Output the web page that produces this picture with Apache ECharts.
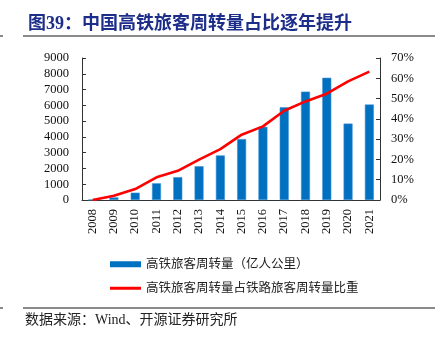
<!DOCTYPE html>
<html>
<head>
<meta charset="utf-8">
<script src="https://cdn.jsdelivr.net/npm/echarts@6/dist/echarts.min.js"></script>
<style>
  html, body { margin: 0; padding: 0; background: #fff; }
  #chart { width: 440px; height: 338px; }
</style>
</head>
<body>
<div id="chart"></div>
<script>
// 年份
const years = ['2008', '2009', '2010', '2011', '2012', '2013', '2014',
               '2015', '2016', '2017', '2018', '2019', '2020', '2021'];
// 高铁旅客周转量（亿人公里）
const hsrVolume = [15.6, 162.2, 463.2, 1058.4, 1446.1, 2141.1, 2825.0,
                   3863.4, 4641.0, 5875.6, 6871.9, 7746.7, 4844.1, 6050];
// 高铁旅客周转量占铁路旅客周转量比重（%）
const hsrShare = [0, 2.1, 5.4, 11.2, 14.4, 19.9, 25.1,
                  32.2, 36.3, 44.0, 48.6, 52.4, 58.5, 63.3];

const barName = '高铁旅客周转量（亿人公里）';
const lineName = '高铁旅客周转量占铁路旅客周转量比重';
const titleText = '图39：中国高铁旅客周转量占比逐年提升';
const sourceText = '数据来源：Wind、开源证券研究所';

const FONT = "'Liberation Serif', 'Noto Sans CJK SC', serif";
const axisColor = '#333';

const chart = echarts.init(document.getElementById('chart'), null, { renderer: 'canvas' });

chart.setOption({
  animation: false,
  textStyle: { fontFamily: FONT },
  title: {
    text: titleText,
    left: 23,
    top: 10,
    textStyle: { fontFamily: FONT, fontSize: 18, fontWeight: 'bold', color: '#1c2d8a' }
  },
  grid: { left: 82, right: 60, top: 58, bottom: 138, containLabel: false },
  legend: [
    {
      data: [{ name: barName, icon: 'rect', itemStyle: { color: '#0070c0', borderWidth: 0 } }],
      left: 105, top: 253,
      itemWidth: 31, itemHeight: 6, itemGap: 0, itemTextGap: 5,
      textStyle: { fontFamily: FONT, fontSize: 12.5, color: '#222' },
      selectedMode: false
    },
    {
      data: [{ name: lineName, icon: 'rect', itemStyle: { color: '#ff0000', borderWidth: 0 } }],
      left: 105, top: 277,
      itemWidth: 31, itemHeight: 3, itemGap: 0, itemTextGap: 5,
      textStyle: { fontFamily: FONT, fontSize: 12.5, color: '#222' },
      selectedMode: false
    }
  ],
  xAxis: {
    type: 'category',
    data: years,
    boundaryGap: true,
    axisLine: { lineStyle: { color: axisColor, width: 1 } },
    axisTick: { inside: true, length: 4, lineStyle: { color: axisColor } },
    axisLabel: { rotate: 90, margin: 9, fontSize: 12.5, color: '#111', fontFamily: FONT, interval: 0 }
  },
  yAxis: [
    {
      type: 'value',
      min: 0, max: 9000, interval: 1000,
      splitLine: { show: false },
      axisLine: { show: true, lineStyle: { color: axisColor, width: 1 } },
      axisTick: { show: true, inside: true, length: 4, lineStyle: { color: axisColor } },
      axisLabel: { margin: 13, fontSize: 12.5, color: '#111', fontFamily: FONT, formatter: v => String(v) }
    },
    {
      type: 'value',
      min: 0, max: 70, interval: 10,
      position: 'right',
      splitLine: { show: false },
      axisLine: { show: true, lineStyle: { color: axisColor, width: 1 } },
      axisTick: { show: true, inside: true, length: 4, lineStyle: { color: axisColor } },
      axisLabel: { margin: 11, fontSize: 12.5, color: '#111', fontFamily: FONT, formatter: '{value}%' }
    }
  ],
  series: [
    {
      name: barName,
      type: 'bar',
      data: hsrVolume,
      yAxisIndex: 0,
      barWidth: 9,
      itemStyle: { color: '#0070c0', borderColor: '#3d8fd3', borderWidth: 0.6 }
    },
    {
      name: lineName,
      type: 'line',
      data: hsrShare,
      yAxisIndex: 1,
      symbol: 'none',
      smooth: false,
      lineStyle: { color: '#ff0000', width: 2.6 },
      itemStyle: { color: '#ff0000' },
      z: 5
    }
  ],
  graphic: [
    // 标题下方分隔线
    { type: 'line', shape: { x1: 0, y1: 36, x2: 3, y2: 36 }, style: { stroke: '#8a8a8a', lineWidth: 2 } },
    { type: 'line', shape: { x1: 23, y1: 36, x2: 435, y2: 36 }, style: { stroke: '#8a8a8a', lineWidth: 2 } },
    // 来源上方分隔线
    { type: 'line', shape: { x1: 0, y1: 308, x2: 3, y2: 308 }, style: { stroke: '#8a8a8a', lineWidth: 2 } },
    { type: 'line', shape: { x1: 23, y1: 308, x2: 435, y2: 308 }, style: { stroke: '#8a8a8a', lineWidth: 2 } },
    {
      type: 'text', left: 25, top: 313,
      style: { text: sourceText, font: "14px 'Liberation Serif', 'Noto Sans CJK SC', serif", fill: '#222' }
    }
  ]
});
</script>
</body>
</html>
